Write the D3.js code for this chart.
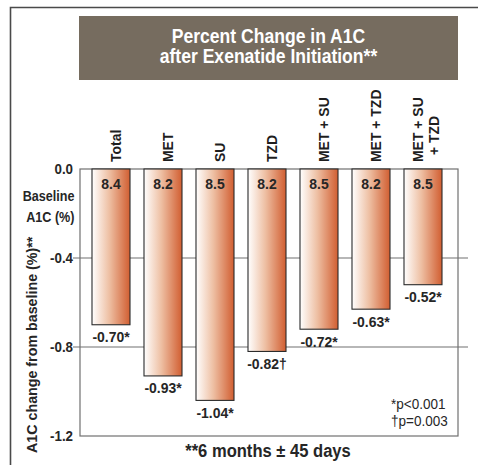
<!DOCTYPE html>
<html>
<head>
<meta charset="utf-8">
<script src="https://cdn.jsdelivr.net/npm/d3@7"></script>
<style>
  html, body { margin: 0; padding: 0; background: #fff; }
  svg { display: block; }
  text { font-family: "Liberation Sans", Arial, sans-serif; }
</style>
</head>
<body>
<svg id="chart" width="478" height="465"></svg>
<script>
const categories = ["Total", "MET", "SU", "TZD", "MET + SU", "MET + TZD", "MET + SU + TZD"];
const categoryLines = [["Total"], ["MET"], ["SU"], ["TZD"], ["MET + SU"], ["MET + TZD"], ["MET + SU", "+ TZD"]];
const changes = [-0.70, -0.93, -1.04, -0.82, -0.72, -0.63, -0.52];
const baselineA1C = [8.4, 8.2, 8.5, 8.2, 8.5, 8.2, 8.5];
const significance = ["*", "*", "*", "\u2020", "*", "*", "*"];
const yTicks = [0, -0.4, -0.8, -1.2];
const gridTicks = [-0.4, -0.8];
const titleLines = ["Percent Change in A1C", "after Exenatide Initiation**"];
const yTitle = "A1C change from baseline (%)**";
const baselineLabel = ["Baseline", "A1C (%)"];
const footnotes = ["*p<0.001", "\u2020p=0.003"];
const xNote = "**6 months \u00b1 45 days";

const svg = d3.select("#chart");
const plot = { left: 80, right: 458, top: 169, bottom: 436 };
const ink = "#262626";

const x = d3.scaleBand().domain(categories).range([85, 449]).paddingInner(14 / 52).paddingOuter(7 / 52);
const y = d3.scaleLinear().domain([0, -1.2]).range([plot.top, plot.bottom]);

// horizontal squeeze helper (condensed look)
function squeeze(sel, f) {
  sel.each(function () {
    const w = this.getComputedTextLength();
    d3.select(this).attr("textLength", w * f).attr("lengthAdjust", "spacingAndGlyphs");
  });
}

// gradient
const defs = svg.append("defs");
const grad = defs.append("linearGradient").attr("id", "barGrad").attr("x1", "0").attr("x2", "1").attr("y1", "0").attr("y2", "0");
grad.append("stop").attr("offset", "0%").attr("stop-color", "#ffffff");
grad.append("stop").attr("offset", "45%").attr("stop-color", "#eec0a4");
grad.append("stop").attr("offset", "100%").attr("stop-color", "#d15e31");

// outer frame
svg.append("path").attr("d", "M10.5,465 V7.5 H478").attr("fill", "none").attr("stroke", "#4a4a4a").attr("stroke-width", 1.6);

// title box
svg.append("rect").attr("x", 79).attr("y", 16).attr("width", 379).attr("height", 64).attr("fill", "#766c5f");
svg.selectAll("text.title").data(titleLines).join("text").attr("class", "title")
  .attr("x", 268.5).attr("y", (d, i) => 42.5 + i * 20.5)
  .attr("text-anchor", "middle").attr("fill", "#fff")
  .attr("font-weight", "bold").attr("font-size", 19.5).text(d => d)
  .call(squeeze, 0.9);

// plot frame
svg.append("rect").attr("x", plot.left).attr("y", plot.top)
  .attr("width", plot.right - plot.left).attr("height", plot.bottom - plot.top)
  .attr("fill", "none").attr("stroke", "#707070").attr("stroke-width", 1.2);

// gridlines
svg.selectAll("line.grid").data(gridTicks).join("line").attr("class", "grid")
  .attr("x1", 73).attr("x2", 468).attr("y1", d => y(d)).attr("y2", d => y(d))
  .attr("stroke", "#707070").attr("stroke-width", 1.2);

// y axis labels
const yAxis = d3.axisLeft(y).tickValues(yTicks).tickSize(0).tickPadding(7)
  .tickFormat(d => d === 0 ? "0.0" : d.toFixed(1));
const yg = svg.append("g").attr("transform", `translate(${plot.left},0)`).call(yAxis);
yg.select(".domain").remove();
yg.selectAll("text").attr("font-size", 15.5).attr("font-weight", "bold").attr("fill", ink)
  .style("font-family", '"Liberation Sans", Arial, sans-serif')
  .call(squeeze, 0.86);

// bars
svg.selectAll("rect.bar").data(categories).join("rect").attr("class", "bar")
  .attr("x", d => x(d)).attr("width", x.bandwidth())
  .attr("y", y(0)).attr("height", (d, i) => y(changes[i]) - y(0))
  .attr("fill", "url(#barGrad)").attr("stroke", "#2b2b2b").attr("stroke-width", 1.1);

// baseline values inside
svg.selectAll("text.base").data(categories).join("text").attr("class", "base")
  .attr("x", d => x(d) + x.bandwidth() / 2).attr("y", 189)
  .attr("text-anchor", "middle").attr("font-size", 15.5).attr("font-weight", "bold").attr("fill", ink)
  .text((d, i) => baselineA1C[i].toFixed(1))
  .call(squeeze, 0.9);

// change labels
svg.selectAll("text.chg").data(categories).join("text").attr("class", "chg")
  .attr("x", d => x(d) + x.bandwidth() / 2).attr("y", (d, i) => y(changes[i]) + 17.5)
  .attr("text-anchor", "middle").attr("font-size", 15.5).attr("font-weight", "bold").attr("fill", ink)
  .text((d, i) => changes[i].toFixed(2) + significance[i])
  .call(squeeze, 0.9);

// category labels (rotated)
categories.forEach((c, i) => {
  const lines = categoryLines[i];
  const cx = x(c) + x.bandwidth() / 2;
  lines.forEach((ln, j) => {
    const off = lines.length === 1 ? 9.5 : (j === 0 ? -0.5 : 15.5);
    const y0 = (lines.length > 1 && j === 1) ? 155 : 162;
    svg.append("text")
      .attr("transform", `translate(${cx + off},${y0}) rotate(-90)`)
      .attr("font-size", 15.5).attr("font-weight", "bold").attr("fill", "#1e1e1e")
      .text(ln)
      .call(squeeze, 0.9);
  });
});

// baseline label
svg.selectAll("text.bl").data(baselineLabel).join("text").attr("class", "bl")
  .attr("x", 74.5).attr("y", (d, i) => 200.5 + i * 21)
  .attr("text-anchor", "end").attr("font-size", 15).attr("font-weight", "bold").attr("fill", ink)
  .text(d => d)
  .call(squeeze, 0.84);

// y title
svg.append("text").attr("transform", "translate(36.5,453) rotate(-90)")
  .attr("font-size", 15.5).attr("font-weight", "bold").attr("fill", ink).text(yTitle)
  .call(squeeze, 0.92);

// footnotes
svg.selectAll("text.fn").data(footnotes).join("text").attr("class", "fn")
  .attr("x", 391).attr("y", (d, i) => 408.5 + i * 17)
  .attr("font-size", 15).attr("fill", ink).text(d => d)
  .call(squeeze, 0.9);

// x note
svg.append("text").attr("x", 268).attr("y", 456.5).attr("text-anchor", "middle")
  .attr("font-size", 18).attr("font-weight", "bold").attr("fill", ink).text(xNote)
  .call(squeeze, 0.92);
</script>
</body>
</html>
